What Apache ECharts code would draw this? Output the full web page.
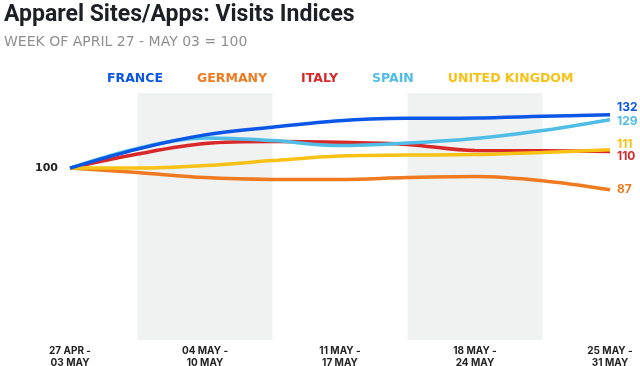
<!DOCTYPE html>
<html>
<head>
<meta charset="utf-8">
<script src="https://cdn.jsdelivr.net/npm/echarts@6/dist/echarts.min.js"></script>
<style>
html,body{margin:0;padding:0;background:#fff;}
#c{width:640px;height:366px;}
</style>
</head>
<body>
<div id="c"></div>
<script>
// Week labels (x-axis ticks)
const weekLabels = ['27 APR -\n03 MAY', '04 MAY -\n10 MAY', '11 MAY -\n17 MAY', '18 MAY -\n24 MAY', '25 MAY -\n31 MAY'];
// Reading positions in weeks (half-week steps)
const steps = [0, 0.5, 1, 1.5, 2, 2.5, 3, 3.5, 4];
// Series values (index, week of Apr 27 = 100)
const france  = [100, 111.4, 119.9, 124.5, 128.4, 129.8, 130.0, 131.0, 132];
const germany = [100, 97.4, 94.3, 93.2, 93.1, 94.3, 94.9, 92.4, 87];
const italy   = [100, 108.4, 114.7, 115.9, 115.5, 114.2, 110.5, 110.4, 110];
const spain   = [100, 111.8, 118.0, 116.5, 113.5, 115.0, 117.7, 122.5, 129];
const uk      = [100, 100.0, 101.5, 104.5, 107.2, 107.8, 108.1, 109.4, 111];
const seriesNames = ['FRANCE', 'GERMANY', 'ITALY', 'SPAIN', 'UNITED KINGDOM'];
const seriesValues = [france, germany, italy, spain, uk];
const colors = ['#0a56e6', '#ef7a1f', '#d8282a', '#4fbde6', '#f7c115'];
const labelOffsets = [[0, -7], [0, 0], [0, 5], [0, 2], [0, -5]];
// Shaded weeks
const shadedWeeks = [1, 3];

const chart = echarts.init(document.getElementById('c'), null, {renderer: 'canvas'});
const font = 'Inter, "Noto Sans", "DejaVu Sans", sans-serif';
const wideFont = '"DejaVu Sans", Inter, sans-serif';

const series = seriesNames.map((name, i) => ({
  name: name,
  type: 'line',
  smooth: 0.35,
  symbol: 'none',
  data: steps.map((s, j) => [s, seriesValues[i][j]]),
  lineStyle: {width: 3.5, color: colors[i]},
  itemStyle: {color: colors[i]},
  z: 3 + (i === 0 ? 2 : 0),
  endLabel: {
    show: true,
    formatter: p => String(Math.round(p.value[1])),
    color: colors[i],
    fontFamily: font,
    fontWeight: 'bold',
    fontSize: 12,
    distance: 7,
    offset: labelOffsets[i]
  },
  markArea: i === 0 ? {
    silent: true,
    itemStyle: {color: '#f0f1f1'},
    data: shadedWeeks.map(w => [{xAxis: w - 0.5, yAxis: -3}, {xAxis: w + 0.5, yAxis: 145}])
  } : undefined
}));

chart.setOption({
  animation: false,
  color: colors,
  title: [{
    text: 'Apparel Sites/Apps: Visits Indices',
    left: 4, top: 4, padding: 0,
    textStyle: {fontFamily: 'Roboto, Inter, sans-serif', fontWeight: 'bold', fontSize: 23, color: '#1c1f26'}
  }, {
    text: 'WEEK OF APRIL 27 - MAY 03 = 100',
    left: 4, top: 35, padding: 0,
    textStyle: {fontFamily: '"DejaVu Sans", "Open Sans", sans-serif', fontWeight: 'normal', fontSize: 14, color: '#8f8f8f'}
  }],
  legend: {
    top: 67, left: 97,
    icon: 'none',
    itemWidth: 0, itemHeight: 0,
    itemGap: 29,
    data: seriesNames.map((n, i) => ({name: n, textStyle: {color: colors[i]}})),
    textStyle: {fontFamily: wideFont, fontWeight: 'bold', fontSize: 12.5}
  },
  grid: {left: 70, right: 30, top: 93, bottom: 26, outerBoundsMode: 'none', containLabel: false},
  xAxis: {
    type: 'value', min: 0, max: 4,
    axisLine: {show: false}, axisTick: {show: false}, splitLine: {show: false},
    axisLabel: {
      customValues: [0, 1, 2, 3, 4],
      formatter: v => weekLabels[Math.round(v)],
      fontFamily: font, fontWeight: 'bold', fontSize: 10, lineHeight: 12,
      color: '#222', margin: 5
    }
  },
  yAxis: {
    type: 'value', min: -3, max: 145,
    axisLine: {show: false}, axisTick: {show: false}, splitLine: {show: false},
    axisLabel: {
      customValues: [100],
      formatter: v => String(v),
      fontFamily: wideFont, fontWeight: 'bold', fontSize: 11, color: '#222', margin: 12
    }
  },
  series: series
});
</script>
</body>
</html>
